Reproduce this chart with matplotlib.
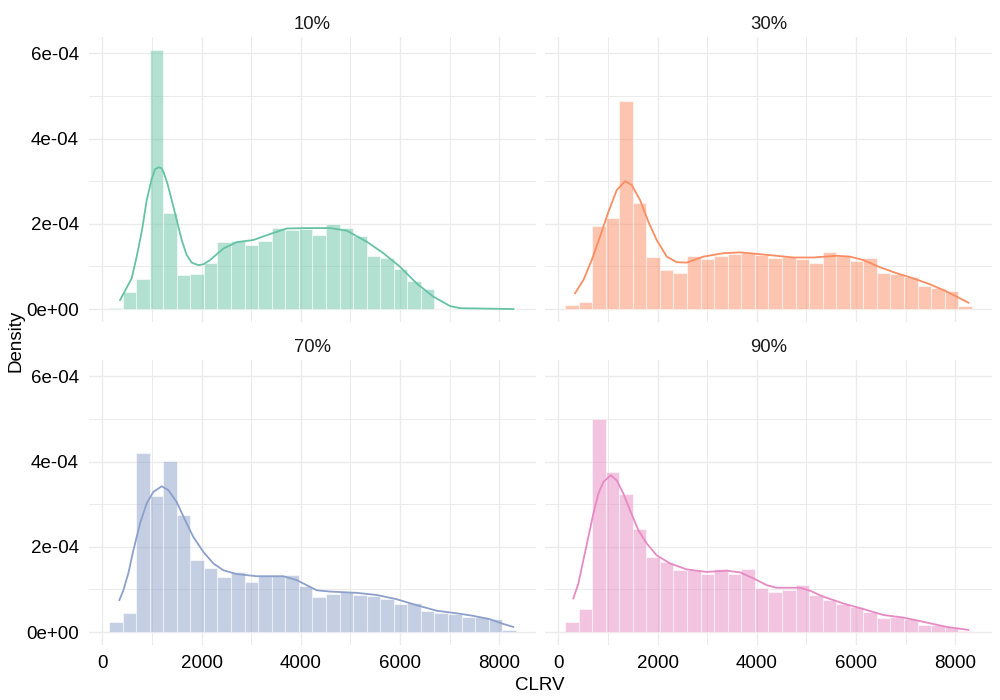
import matplotlib
matplotlib.use("Agg")
import matplotlib.pyplot as plt
import numpy as np
from matplotlib.ticker import FuncFormatter, MultipleLocator

plt.rcParams['font.family'] = ['Liberation Sans', 'DejaVu Sans']

# histogram bins (shared by all facets), density in units of 1e-4
bin_lo, bin_hi, n_bins = 135, 8335, 30

panels = ["10%", "30%", "70%", "90%"]
colors = ["#66C2A5", "#FC8D62", "#8DA0CB", "#E78AC3"]

hist_10 = [0.03, 0.40, 0.70, 6.08, 2.26, 0.80, 0.82, 1.08, 1.57, 1.60, 1.50, 1.60, 1.90, 1.85, 1.88,
           1.74, 2.00, 1.90, 1.71, 1.24, 1.20, 0.94, 0.66, 0.47, 0, 0, 0, 0, 0, 0]
hist_30 = [0.09, 0.16, 1.95, 2.14, 4.88, 2.49, 1.22, 0.92, 0.85, 1.24, 1.17, 1.24, 1.29, 1.31, 1.27,
           1.20, 1.22, 1.17, 1.08, 1.34, 1.24, 1.13, 1.20, 0.85, 0.82, 0.75, 0.54, 0.49, 0.42, 0.07]
hist_70 = [0.23, 0.45, 4.20, 3.19, 4.01, 2.74, 1.69, 1.50, 1.29, 1.41, 1.17, 1.31, 1.31, 1.34, 1.08,
           0.82, 0.89, 0.94, 0.87, 0.84, 0.77, 0.66, 0.68, 0.49, 0.45, 0.42, 0.35, 0.35, 0.30, 0.05]
hist_90 = [0.23, 0.54, 4.99, 3.75, 3.23, 2.41, 1.76, 1.64, 1.45, 1.45, 1.36, 1.48, 1.36, 1.48, 1.03,
           0.94, 0.98, 1.10, 0.87, 0.75, 0.66, 0.59, 0.47, 0.33, 0.35, 0.30, 0.16, 0.16, 0.12, 0.02]

# kernel density curves
dens_x_10 = [357, 592, 692, 800, 894, 995, 1063, 1143, 1197, 1244, 1311, 1400, 1499, 1600, 1700, 1801,
             1935, 2037, 2171, 2440, 2709, 3044, 3381, 3717, 4120, 4591, 4927, 5330, 5667, 6003, 6338,
             6675, 7010, 7212, 8288]
dens_y_10 = [0.21, 0.72, 1.23, 1.85, 2.55, 3.05, 3.28, 3.33, 3.30, 3.18, 2.95, 2.55, 2.09, 1.62, 1.27, 1.09,
             1.03, 1.05, 1.15, 1.42, 1.57, 1.62, 1.76, 1.89, 1.90, 1.90, 1.84, 1.58, 1.31, 0.99, 0.60,
             0.29, 0.07, 0.02, 0.0]
dens_x_30 = [337, 505, 673, 841, 1009, 1177, 1345, 1479, 1647, 1815, 1983, 2185, 2386, 2588, 2924,
             3327, 3663, 4133, 4738, 5141, 5612, 5881, 6150, 6486, 6822, 7158, 7494, 7830, 8267]
dens_y_30 = [0.37, 0.68, 1.15, 1.70, 2.28, 2.79, 3.00, 2.91, 2.56, 2.05, 1.62, 1.23, 1.10, 1.09, 1.23,
             1.31, 1.33, 1.28, 1.21, 1.21, 1.25, 1.23, 1.15, 0.98, 0.84, 0.72, 0.58, 0.41, 0.15]
dens_x_70 = [343, 424, 524, 626, 760, 894, 1029, 1197, 1331, 1499, 1667, 1835, 2037, 2238, 2440, 2709,
             3111, 3649, 3918, 4120, 4321, 4590, 5128, 5531, 5935, 6338, 6741, 7144, 7480, 7816, 8085, 8286]
dens_y_70 = [0.75, 0.98, 1.38, 1.92, 2.55, 3.02, 3.29, 3.42, 3.33, 3.05, 2.63, 2.23, 1.88, 1.61, 1.45, 1.36,
             1.31, 1.31, 1.22, 1.10, 0.98, 0.95, 0.92, 0.87, 0.77, 0.63, 0.50, 0.44, 0.38, 0.30, 0.19, 0.12]
dens_x_90 = [303, 404, 505, 605, 706, 807, 908, 1056, 1177, 1311, 1445, 1613, 1781, 1983, 2252, 2588,
             2991, 3394, 3663, 3932, 4201, 4402, 4873, 5075, 5343, 5746, 6150, 6553, 6956, 7359, 7830, 8267]
dens_y_90 = [0.79, 1.14, 1.69, 2.23, 2.78, 3.25, 3.52, 3.68, 3.56, 3.25, 2.86, 2.39, 2.08, 1.80, 1.61, 1.47,
             1.41, 1.44, 1.40, 1.26, 1.10, 1.04, 1.04, 0.97, 0.83, 0.67, 0.54, 0.40, 0.34, 0.24, 0.12, 0.05]

hists = [hist_10, hist_30, hist_70, hist_90]
dens = [(dens_x_10, dens_y_10), (dens_x_30, dens_y_30), (dens_x_70, dens_y_70), (dens_x_90, dens_y_90)]

edges = np.linspace(bin_lo, bin_hi, n_bins + 1)
width = edges[1] - edges[0]

fig = plt.figure(figsize=(10, 7), dpi=100)
W, H = 1000.0, 700.0
# panel boxes in pixels: left, top, right, bottom
boxes = [(88.7, 37, 536.1, 322), (544.7, 37, 992.1, 322),
         (88.7, 360, 536.1, 645), (544.7, 360, 992.1, 645)]

ymax = max(max(h) for h in hists)
for i, (name, col, h, (dx, dy), box) in enumerate(zip(panels, colors, hists, dens, boxes)):
    l, t, r, b = box
    ax = fig.add_axes([l / W, 1 - b / H, (r - l) / W, (b - t) / H])
    heights = np.array(h) * 1e-4
    ax.bar(edges[:-1], heights, width=width, align='edge', color=col, alpha=0.5,
           edgecolor='white', linewidth=0.8, zorder=2)
    ax.plot(dx, np.array(dy) * 1e-4, color=col, lw=1.3, zorder=3, solid_joinstyle='round')

    ax.set_xlim(bin_lo - 0.05 * (bin_hi - bin_lo), bin_hi + 0.05 * (bin_hi - bin_lo))
    ax.set_ylim(-0.05 * ymax * 1e-4, 1.05 * ymax * 1e-4)
    ax.xaxis.set_major_locator(MultipleLocator(2000))
    ax.xaxis.set_minor_locator(MultipleLocator(1000))
    ax.yaxis.set_major_locator(MultipleLocator(2e-4))
    ax.yaxis.set_minor_locator(MultipleLocator(1e-4))
    ax.yaxis.set_major_formatter(FuncFormatter(lambda v, p: '{:.0e}'.format(v) if abs(v) > 1e-9 else '0e+00'))
    ax.grid(which='major', color='#EBEBEB', lw=1.0, zorder=0)
    ax.grid(which='minor', color='#EBEBEB', lw=0.7, zorder=0)
    ax.set_axisbelow(True)
    for s in ax.spines.values():
        s.set_visible(False)
    ax.tick_params(which='both', length=0, labelsize=13.5, labelcolor='black', pad=7)
    if i < 2:
        ax.tick_params(axis='x', labelbottom=False)
    if i % 2 == 1:
        ax.tick_params(axis='y', labelleft=False)
    ax.set_title(name, fontsize=13.3, color='#1A1A1A', pad=6)

fig.text(540 / W, 1 - 685 / H, "CLRV", ha='center', va='center', fontsize=13.5)
fig.text(16 / W, 1 - 341 / H, "Density", ha='center', va='center', rotation=90, fontsize=13.5)

fig.savefig("out.png", dpi=100, facecolor='white')
